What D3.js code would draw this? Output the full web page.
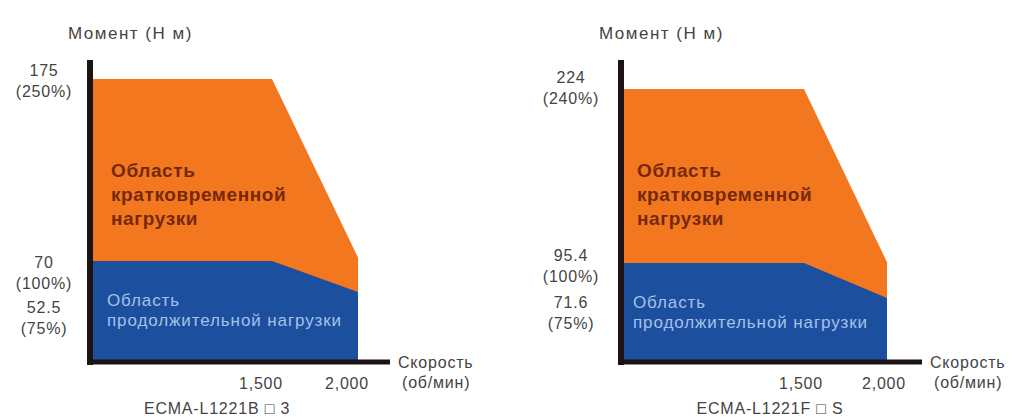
<!DOCTYPE html>
<html>
<head>
<meta charset="utf-8">
<script src="https://cdn.jsdelivr.net/npm/d3@7"></script>
<style>
  body { margin: 0; background: #fff; }
  svg { display: block; font-family: "Liberation Sans", Arial, sans-serif; }
</style>
</head>
<body>
<svg id="chart" width="1020" height="417"></svg>
<script>
// data
var speeds = [0, 1500, 2000];
var speedTicks = [1500, 2000];
var speedTickLabels = ["1,500", "2,000"];

var leftPeakTorque = [175, 175, 72];
var leftRatedTorque = [70, 70, 52.5];
var leftTorqueTicks = [175, 70, 52.5];
var leftTorqueLabels = ["175", "70", "52.5"];
var leftPercentLabels = ["(250%)", "(100%)", "(75%)"];
var leftModel = "ECMA-L1221B \u25A1 3";

var rightPeakTorque = [224, 224, 96];
var rightRatedTorque = [95.4, 95.4, 71.6];
var rightTorqueTicks = [224, 95.4, 71.6];
var rightTorqueLabels = ["224", "95.4", "71.6"];
var rightPercentLabels = ["(240%)", "(100%)", "(75%)"];
var rightModel = "ECMA-L1221F \u25A1 S";

var yTitle = "Момент (Н м)";
var xTitle = ["Скорость", "(об/мин)"];
var peakText = ["Область", "кратковременной", "нагрузки"];
var ratedText = ["Область", "продолжительной нагрузки"];

var orange = "#f3771f",
    blue = "#1d4f9f",
    axisColor = "#1c1414",
    labelColor = "#444";

var svg = d3.select("#chart");

var label = function(sel) {
  return sel.style("font-size", "16px")
    .style("letter-spacing", "0.8px")
    .style("fill", labelColor);
};

var drawChart = function(cfg) {
  var g = svg.append("g");

  var x = d3.scaleLinear()
    .domain(speeds)
    .range(cfg.xRange);

  // the picture is schematic, so the torque axis is piecewise
  var y = d3.scaleLinear()
    .domain([0, cfg.rated[2], cfg.rated[0], cfg.peak[0]])
    .range(cfg.yRange);

  var rows = speeds.map(function(s, i) {
    return {speed: s, peak: cfg.peak[i], rated: cfg.rated[i]};
  });

  var peakArea = d3.area()
    .x(function(d) { return x(d.speed); })
    .y0(y(0))
    .y1(function(d) { return y(d.peak); });

  var ratedArea = d3.area()
    .x(function(d) { return x(d.speed); })
    .y0(y(0))
    .y1(function(d) { return y(d.rated); });

  g.append("path").datum(rows).attr("d", peakArea).style("fill", orange);
  g.append("path").datum(rows).attr("d", ratedArea).style("fill", blue);

  // thick axes
  g.append("line")
    .attr("x1", cfg.axisX).attr("x2", cfg.axisX)
    .attr("y1", cfg.axisTop).attr("y2", y(0) + 5)
    .style("stroke", axisColor).style("stroke-width", 6);
  g.append("line")
    .attr("x1", cfg.axisX - 3).attr("x2", cfg.axisRight)
    .attr("y1", y(0) + 2).attr("y2", y(0) + 2)
    .style("stroke", axisColor).style("stroke-width", 5);

  // torque labels
  var labelY = [];
  cfg.ticks.forEach(function(v, i) {
    var cy = i < 2 ? y(v) + cfg.tickShift[i] : labelY[i - 1] + cfg.stackGap;
    labelY.push(cy);
    label(g.append("text"))
      .attr("x", cfg.labelX).attr("y", cy).attr("dy", "0.35em")
      .attr("text-anchor", "middle")
      .text(cfg.tickLabels[i]);
    label(g.append("text"))
      .attr("x", cfg.labelX).attr("y", cy + 21).attr("dy", "0.35em")
      .attr("text-anchor", "middle")
      .text(cfg.pctLabels[i]);
  });

  // speed labels
  label(g.selectAll(".speedLabel")
    .data(speedTicks)
    .enter()
    .append("text")
    .attr("class", "speedLabel")
    .attr("x", function(d) { return x(d) + cfg.xLabelShift; })
    .attr("y", 383).attr("dy", "0.35em")
    .attr("text-anchor", "middle")
    .text(function(d, i) { return speedTickLabels[i]; }));

  // titles
  label(g.append("text"))
    .attr("x", cfg.axisX - 22).attr("y", 33).attr("dy", "0.35em")
    .style("font-size", "17px").style("letter-spacing", "1.5px")
    .text(yTitle);
  xTitle.forEach(function(t, i) {
    label(g.append("text"))
      .attr("x", cfg.axisRight + 8 + i * 4).attr("y", 362 + i * 20).attr("dy", "0.35em")
      .text(t);
  });
  label(g.append("text"))
    .attr("x", cfg.modelX).attr("y", 408).attr("dy", "0.35em")
    .attr("text-anchor", "middle")
    .text(cfg.model);

  // region captions
  peakText.forEach(function(t, i) {
    g.append("text")
      .attr("x", cfg.textX).attr("y", 170 + i * 24).attr("dy", "0.35em")
      .style("font-size", "19px").style("font-weight", "bold")
      .style("letter-spacing", "0.6px")
      .style("fill", "#74290c")
      .text(t);
  });
  ratedText.forEach(function(t, i) {
    g.append("text")
      .attr("x", cfg.textX - 4).attr("y", cfg.ratedTextY + i * 20).attr("dy", "0.35em")
      .style("font-size", "17px")
      .style("letter-spacing", "0.9px")
      .style("fill", "#a6c1ea")
      .text(t);
  });
};

drawChart({
  peak: leftPeakTorque, rated: leftRatedTorque,
  ticks: leftTorqueTicks, tickLabels: leftTorqueLabels, pctLabels: leftPercentLabels,
  model: leftModel,
  xRange: [93, 272, 358], yRange: [360, 292, 261, 79],
  axisX: 90, axisTop: 60, axisRight: 390,
  labelX: 44, tickShift: [-9, 1], stackGap: 45,
  xLabelShift: -11, modelX: 217, textX: 111, ratedTextY: 300
});

drawChart({
  peak: rightPeakTorque, rated: rightRatedTorque,
  ticks: rightTorqueTicks, tickLabels: rightTorqueLabels, pctLabels: rightPercentLabels,
  model: rightModel,
  xRange: [624, 804, 887], yRange: [360, 298, 263, 89],
  axisX: 621, axisTop: 60, axisRight: 922,
  labelX: 571, tickShift: [-12, -8], stackGap: 47,
  xLabelShift: -3, modelX: 770, textX: 637, ratedTextY: 302
});
</script>
</body>
</html>
